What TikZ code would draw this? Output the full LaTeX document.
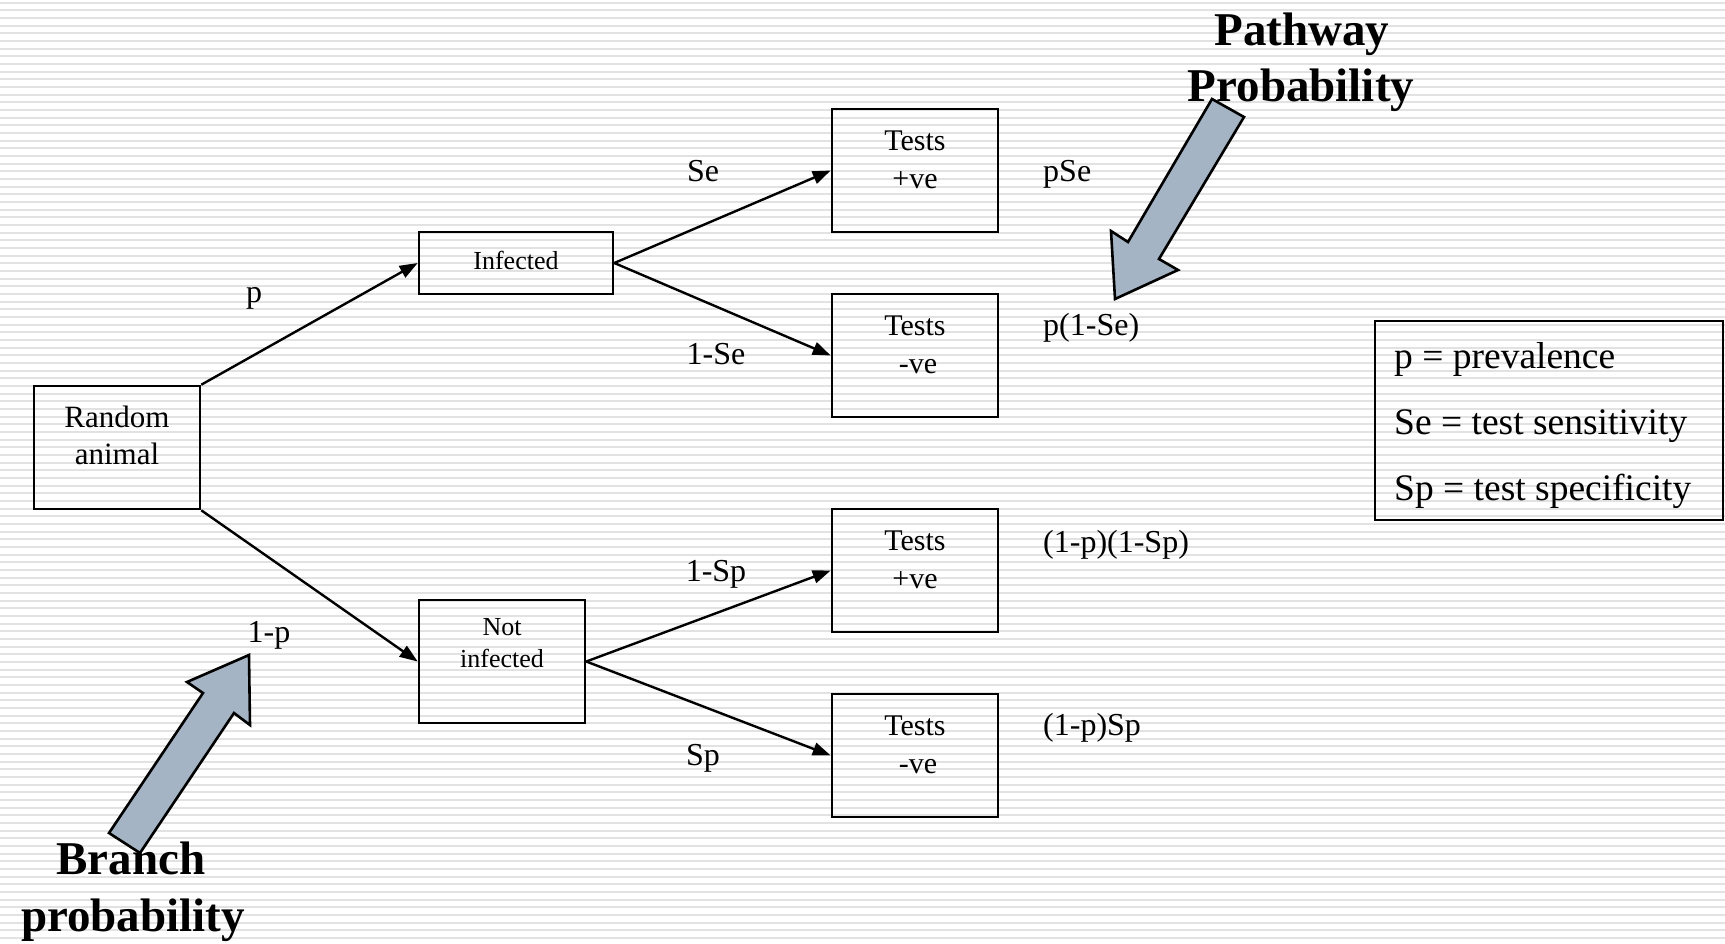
\documentclass[tikz,border=0pt]{standalone}
\usepackage{fontspec}
\setmainfont{Liberation Serif}
\usetikzlibrary{arrows.meta}
\definecolor{stripe}{HTML}{E2E2E2}
\definecolor{arrowfill}{RGB}{164,180,196}
\begin{document}
\begin{tikzpicture}[x=1pt,y=-1pt,
  box/.style={draw, line width=2.6pt, inner sep=0pt},
  conn/.style={line width=2.4pt, -{Triangle[length=18pt,width=13pt]}},
  lbl/.style={font=\fontsize{32}{38}\selectfont, inner sep=0pt, anchor=base},
  res/.style={font=\fontsize{32}{38}\selectfont, inner sep=0pt, anchor=base west},
  tst/.style={font=\fontsize{30}{36}\selectfont, inner sep=0pt, anchor=base},
  small/.style={font=\fontsize{26}{31}\selectfont, inner sep=0pt, anchor=base},
  leg/.style={font=\fontsize{37.5}{44}\selectfont, inner sep=0pt, anchor=base west},
  head/.style={font=\fontsize{47}{57}\selectfont\bfseries, inner sep=0pt, anchor=base},
  bigarrow/.style={fill=arrowfill, draw=black, line width=2.6pt, line join=miter}]
\useasboundingbox (0,0) rectangle (1725,943);
\fill[white] (0,0) rectangle (1725,943);
\foreach \k in {0,...,122} \fill[stripe] (0,{1.7+7.667*\k}) rectangle (1725,{3.7+7.667*\k});

% boxes
\node[box, minimum width=166pt, minimum height=123pt] (ra) at (117,447.5) {};
\node[box, minimum width=194pt, minimum height=62pt, text depth=6pt, font=\fontsize{26}{31}\selectfont] (inf) at (516,263) {Infected};
\node[box, minimum width=166pt, minimum height=123pt] (ninf) at (502,661.5) {};
\node[box, minimum width=166pt, minimum height=123pt] (tp1) at (915,170.5) {};
\node[box, minimum width=166pt, minimum height=123pt] (tn1) at (915,355.5) {};
\node[box, minimum width=166pt, minimum height=123pt] (tp2) at (915,570.5) {};
\node[box, minimum width=166pt, minimum height=123pt] (tn2) at (915,755.5) {};
\node[box, minimum width=348pt, minimum height=199pt] (legend) at (1549,420.5) {};

% box texts
\node[tst, font=\fontsize{31}{37}\selectfont] (ra1) at (117,427) {Random};
\node[tst, font=\fontsize{31}{37}\selectfont] (ra2) at (117,464) {animal};
\node[small] (ni1) at (502,635) {Not};
\node[small] (ni2) at (502,667) {infected};
\node[tst] (tp1a) at (915,150) {Tests};
\node[tst] (tp1b) at (915,188) {+ve};
\node[tst] (tn1a) at (915,335) {Tests};
\node[tst] (tn1b) at (918,373) {-ve};
\node[tst] (tp2a) at (915,550) {Tests};
\node[tst] (tp2b) at (915,588) {+ve};
\node[tst] (tn2a) at (915,735) {Tests};
\node[tst] (tn2b) at (918,773) {-ve};

% connectors
\draw[conn] (ra.north east) -- (inf.west);
\draw[conn] (ra.south east) -- (ninf.west);
\draw[conn] (inf.east) -- (tp1.west);
\draw[conn] (inf.east) -- (tn1.west);
\draw[conn] (ninf.east) -- (tp2.west);
\draw[conn] (ninf.east) -- (tn2.west);

% branch labels
\node[lbl] (lp) at (254,302) {p};
\node[lbl] (l1p) at (269,642) {1-p};
\node[lbl] (lse) at (703,181) {Se};
\node[lbl] (l1se) at (716,364) {1-Se};
\node[lbl] (l1sp) at (716,581) {1-Sp};
\node[lbl] (lsp) at (703,765) {Sp};

% pathway results
\node[res] (r1) at (1043,181) {pSe};
\node[res] (r2) at (1043,335) {p(1-Se)};
\node[res] (r3) at (1043,552) {(1-p)(1-Sp)};
\node[res] (r4) at (1043,735) {(1-p)Sp};

% legend
\node[leg] (lg1) at (1394,368) {p = prevalence};
\node[leg] (lg2) at (1394,434) {Se = test sensitivity};
\node[leg] (lg3) at (1394,500) {Sp = test specificity};

% headings
\node[head] (pw1) at (1302,45) {Pathway};
\node[head] (pw2) at (1301,101) {Probability};
\node[head] (br1) at (131,874) {Branch};
\node[head] (br2) at (133,931) {probability};

% block arrows
\draw[bigarrow] (1212,99) -- (1244,117) -- (1159,259) -- (1178,270) -- (1115,299) -- (1111,231) -- (1128,242) -- cycle;
\draw[bigarrow] (249,655) -- (250,725) -- (234,713) -- (140,853) -- (109,833) -- (203,693) -- (187,682) -- cycle;
\end{tikzpicture}
\end{document}
